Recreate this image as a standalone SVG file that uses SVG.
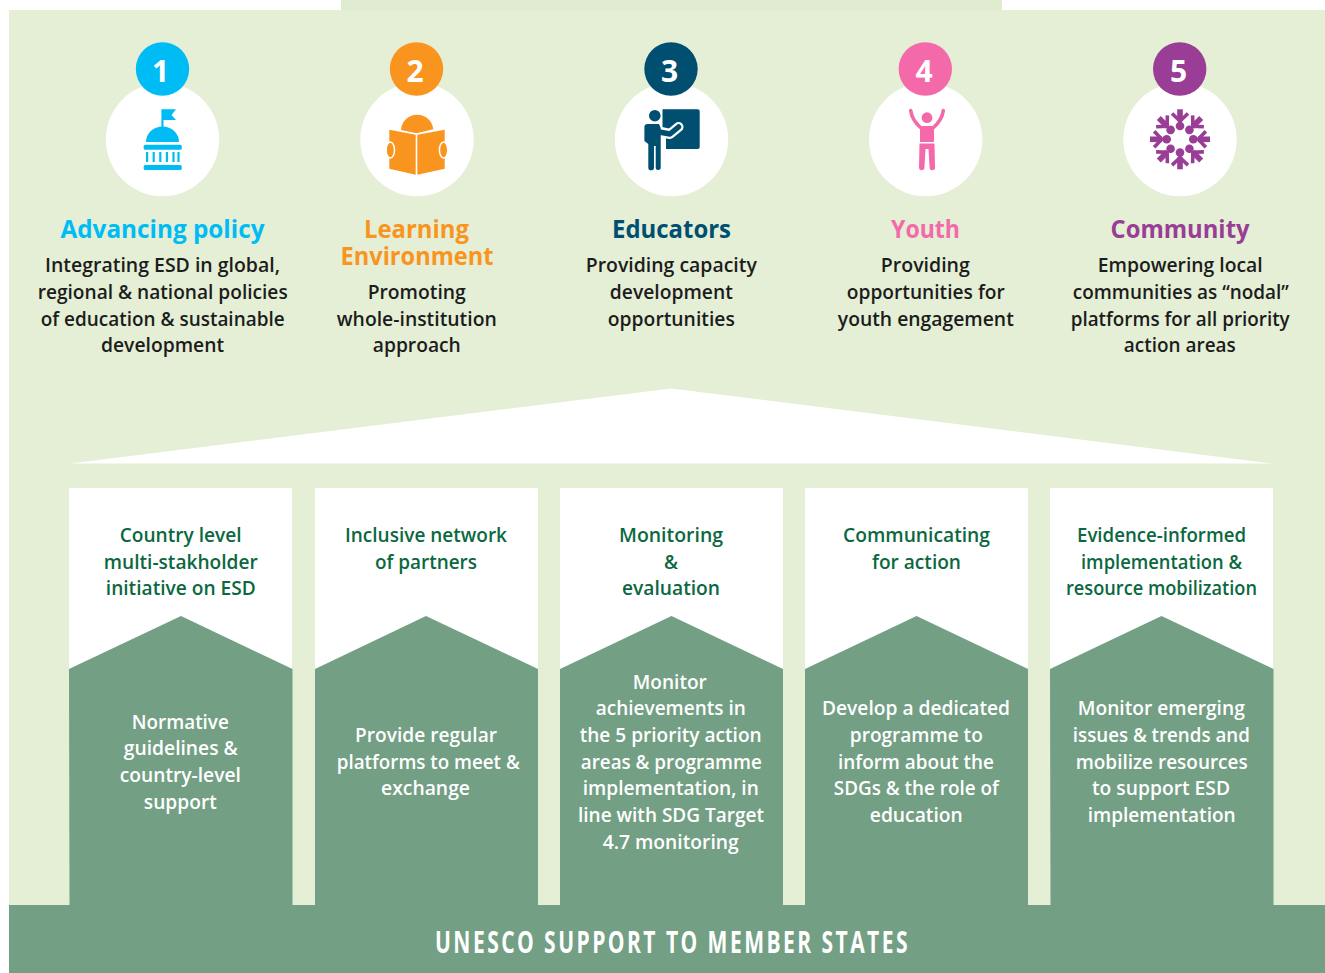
<svg xmlns="http://www.w3.org/2000/svg" width="1325" height="973" viewBox="0 0 1325 973">
<style>
text{font-family:"Open Sans","Noto Sans","Liberation Sans",sans-serif;text-anchor:middle}
.t{font-size:25px;font-weight:700}
.b{font-size:20.5px;font-weight:600;fill:#1c1c1c}
.h{font-size:20.5px;font-weight:600;fill:#0b6840}
.w{font-size:20.5px;font-weight:600;fill:#fff}
.n{font-size:30px;font-weight:700;fill:#fff}
.c{fill:#fff}
.p{fill:#739f85}
.panel{fill:#fff}
</style>
<defs>
<g id="fig"><circle cx="0" cy="-13.3" r="4.3" fill="#993d96"/><rect x="-2.8" y="-30" width="5.6" height="12" fill="#993d96"/><path d="M-8-25.8L0-18.3 8-25.8" fill="none" stroke="#993d96" stroke-width="3.6"/></g>
</defs>
<rect width="1325" height="973" fill="#fff"/>
<rect x="9" y="10" width="1316" height="963" fill="#e4efd5"/>
<rect x="341" y="0" width="661" height="10" fill="#e0ecd0"/>

<g id="action-1">
<circle class="c" cx="162.5" cy="139.5" r="56.7"/>
<circle cx="162.5" cy="69" r="26.7" fill="#00bcf5"/>
<text class="n" x="160.5" y="81.7">1</text>
<g fill="#00bcf5">
<path d="M161.4 109.3H176L171.5 115 176 120H163.5V128H161.4Z"/>
<path d="M146 142A16.5 15.5 0 0 1 179 142Z"/>
<rect x="143.7" y="144.7" width="38" height="5" rx="1.5"/>
<path d="M146 152h2.2v10H146zM152.6 152h2.2v10h-2.2zM159.2 152h2.2v10h-2.2zM165.8 152h2.2v10h-2.2zM172.4 152h2.2v10h-2.2zM177.4 152h2.2v10h-2.2z"/>
<rect x="143.7" y="165" width="38" height="5" rx="1.5"/>
</g>
<text class="t" x="162.5" y="238" fill="#00bcf5" textLength="204" lengthAdjust="spacingAndGlyphs">Advancing policy</text>
<text class="b" x="162.5" y="272" textLength="235" lengthAdjust="spacingAndGlyphs">Integrating ESD in global,</text>
<text class="b" x="162.7" y="299" textLength="250" lengthAdjust="spacingAndGlyphs">regional &amp; national policies</text>
<text class="b" x="162.7" y="326" textLength="244" lengthAdjust="spacingAndGlyphs">of education &amp; sustainable</text>
<text class="b" x="162.5" y="352" textLength="123" lengthAdjust="spacingAndGlyphs">development</text>
</g>

<g id="action-2">
<circle class="c" cx="417" cy="139.5" r="56.7"/>
<circle cx="416.5" cy="69" r="26.7" fill="#f9951f"/>
<text class="n" x="415" y="81.7">2</text>
<g fill="#f9951f">
<path d="M401 130A16.2 16.2 0 0 1 433.3 129.3L416.7 133.3Z"/>
<path d="M389.3 129.7L415.7 134.7V174.7L389.3 168.7Z"/>
<path d="M444.7 129.7L417.3 134.7V174.7L444.7 168.7Z"/>
<ellipse cx="390.3" cy="150" rx="4.2" ry="8" stroke="#fff" stroke-width="1.5"/>
<ellipse cx="443.6" cy="150" rx="4.2" ry="8" stroke="#fff" stroke-width="1.5"/>
</g>
<text class="t" fill="#f9951f"><tspan x="416.5" y="238" textLength="105" lengthAdjust="spacingAndGlyphs">Learning</tspan><tspan x="417" y="265" textLength="153" lengthAdjust="spacingAndGlyphs">Environment</tspan></text>
<text class="b" x="416.7" y="299" textLength="98" lengthAdjust="spacingAndGlyphs">Promoting</text>
<text class="b" x="416.8" y="326" textLength="160" lengthAdjust="spacingAndGlyphs">whole-institution</text>
<text class="b" x="416.8" y="352" textLength="88" lengthAdjust="spacingAndGlyphs">approach</text>
</g>

<g id="action-3">
<circle class="c" cx="671.5" cy="139.5" r="56.7"/>
<circle cx="671" cy="69" r="26.7" fill="#004f71"/>
<text class="n" x="669.5" y="81.7">3</text>
<g fill="#004f71">
<path d="M662.5 109.3H697.7A2 2 0 0 1 699.7 111.3V147A2 2 0 0 1 697.7 149H666V128H662.5Z"/>
<path d="M661 132L670 134 678.5 127" fill="none" stroke="#fff" stroke-width="10" stroke-linecap="round" stroke-linejoin="round"/>
<path d="M659 132L670 134 678.5 127" fill="none" stroke="#004f71" stroke-width="5.5" stroke-linecap="round" stroke-linejoin="round"/>
<circle cx="654.8" cy="115.7" r="6.4" stroke="#fff" stroke-width="1.2"/>
<path d="M647.7 124H659L660.7 128V167.5A2.5 2.5 0 0 1 655.7 167.5V146H654V167.5A2.8 2.8 0 0 1 648.3 167.5V144L644.4 141V127Q644.4 124 647.7 124Z"/>
</g>
<text class="t" x="671.5" y="238" fill="#004f71" textLength="119" lengthAdjust="spacingAndGlyphs">Educators</text>
<text class="b" x="671.3" y="272" textLength="171" lengthAdjust="spacingAndGlyphs">Providing capacity</text>
<text class="b" x="671.3" y="299" textLength="123" lengthAdjust="spacingAndGlyphs">development</text>
<text class="b" x="671.3" y="326" textLength="127" lengthAdjust="spacingAndGlyphs">opportunities</text>
</g>

<g id="action-4">
<circle class="c" cx="925.7" cy="139.5" r="56.7"/>
<circle cx="925.3" cy="69" r="26.7" fill="#f469a9"/>
<text class="n" x="924" y="81.7">4</text>
<g fill="#f469a9">
<circle cx="927" cy="117.7" r="5.4"/>
<path d="M910.7 110.5Q912 120 920.5 127.5L927 131 933.5 127.5Q942 120 943.3 110.5" fill="none" stroke="#f469a9" stroke-width="3.6" stroke-linecap="round" stroke-linejoin="round"/>
<rect x="920" y="126" width="14" height="16"/>
<path d="M919.5 143.5H934.5L935 167.5A2.7 2.7 0 0 1 929.6 167.5L928.5 149H925.5L924.4 167.5A2.7 2.7 0 0 1 919 167.5Z"/>
</g>
<text class="t" x="925.5" y="238" fill="#f469a9" textLength="69" lengthAdjust="spacingAndGlyphs">Youth</text>
<text class="b" x="925.3" y="272" textLength="89" lengthAdjust="spacingAndGlyphs">Providing</text>
<text class="b" x="925.8" y="299" textLength="158" lengthAdjust="spacingAndGlyphs">opportunities for</text>
<text class="b" x="925.8" y="326" textLength="176" lengthAdjust="spacingAndGlyphs">youth engagement</text>
</g>

<g id="action-5">
<circle class="c" cx="1180" cy="139.5" r="56.7"/>
<circle cx="1179.7" cy="69" r="26.7" fill="#993d96"/>
<text class="n" x="1178.5" y="81.7">5</text>
<g transform="translate(1180 139.3)">
<use href="#fig"/>
<use href="#fig" transform="rotate(45)"/>
<use href="#fig" transform="rotate(90)"/>
<use href="#fig" transform="rotate(135)"/>
<use href="#fig" transform="rotate(180)"/>
<use href="#fig" transform="rotate(225)"/>
<use href="#fig" transform="rotate(270)"/>
<use href="#fig" transform="rotate(315)"/>
</g>
<text class="t" x="1180" y="238" fill="#993d96" textLength="139" lengthAdjust="spacingAndGlyphs">Community</text>
<text class="b" x="1180.2" y="272" textLength="165" lengthAdjust="spacingAndGlyphs">Empowering local</text>
<text class="b" x="1180.8" y="299" textLength="216" lengthAdjust="spacingAndGlyphs">communities as “nodal”</text>
<text class="b" x="1180.2" y="326" textLength="219" lengthAdjust="spacingAndGlyphs">platforms for all priority</text>
<text class="b" x="1179.8" y="352" textLength="112" lengthAdjust="spacingAndGlyphs">action areas</text>
</g>

<g id="roof"><polygon class="c" points="70,463.5 671,388.5 1272,463.5"/></g>

<g id="pillar-1">
<rect class="panel" x="69" y="488" width="223" height="200"/>
<polygon class="p" points="69,669 181,616 292.5,669 292.5,906 69.5,906"/>
<text class="h" x="180.7" y="542" textLength="122" lengthAdjust="spacingAndGlyphs">Country level</text>
<text class="h" x="180.8" y="569" textLength="154" lengthAdjust="spacingAndGlyphs">multi-stakholder</text>
<text class="h" x="180.8" y="595" textLength="150" lengthAdjust="spacingAndGlyphs">initiative on ESD</text>
<text class="w" x="180.3" y="729" textLength="97" lengthAdjust="spacingAndGlyphs">Normative</text>
<text class="w" x="180.8" y="755" textLength="114" lengthAdjust="spacingAndGlyphs">guidelines &amp;</text>
<text class="w" x="180.3" y="782" textLength="121" lengthAdjust="spacingAndGlyphs">country-level</text>
<text class="w" x="180.3" y="809" textLength="73" lengthAdjust="spacingAndGlyphs">support</text>
</g>

<g id="pillar-2">
<rect class="panel" x="315" y="488" width="223" height="200"/>
<polygon class="p" points="315,669 426,616 538,669 538,906 315,906"/>
<text class="h" x="426" y="542" textLength="162" lengthAdjust="spacingAndGlyphs">Inclusive network</text>
<text class="h" x="426" y="569" textLength="102" lengthAdjust="spacingAndGlyphs">of partners</text>
<text class="w" x="426" y="742" textLength="142" lengthAdjust="spacingAndGlyphs">Provide regular</text>
<text class="w" x="428.3" y="769" textLength="183" lengthAdjust="spacingAndGlyphs">platforms to meet &amp;</text>
<text class="w" x="425.5" y="795" textLength="89" lengthAdjust="spacingAndGlyphs">exchange</text>
</g>

<g id="pillar-3">
<rect class="panel" x="560" y="488" width="223" height="200"/>
<polygon class="p" points="560,669 671.5,616 783,669 783,906 560,906"/>
<text class="h" x="671" y="542" textLength="104" lengthAdjust="spacingAndGlyphs">Monitoring</text>
<text class="h" x="671" y="569" textLength="14" lengthAdjust="spacingAndGlyphs">&amp;</text>
<text class="h" x="671" y="595" textLength="98" lengthAdjust="spacingAndGlyphs">evaluation</text>
<text class="w" x="669.8" y="689" textLength="74" lengthAdjust="spacingAndGlyphs">Monitor</text>
<text class="w" x="670.8" y="715" textLength="150" lengthAdjust="spacingAndGlyphs">achievements in</text>
<text class="w" x="670.7" y="742" textLength="182" lengthAdjust="spacingAndGlyphs">the 5 priority action</text>
<text class="w" x="671.3" y="769" textLength="181" lengthAdjust="spacingAndGlyphs">areas &amp; programme</text>
<text class="w" x="670.8" y="795" textLength="176" lengthAdjust="spacingAndGlyphs">implementation, in</text>
<text class="w" x="671" y="822" textLength="186" lengthAdjust="spacingAndGlyphs">line with SDG Target</text>
<text class="w" x="670.7" y="849" textLength="136" lengthAdjust="spacingAndGlyphs">4.7 monitoring</text>
</g>

<g id="pillar-4">
<rect class="panel" x="805" y="488" width="223" height="200"/>
<polygon class="p" points="805,669 916.5,616 1028,669 1028,906 805,906"/>
<text class="h" x="916.5" y="542" textLength="147" lengthAdjust="spacingAndGlyphs">Communicating</text>
<text class="h" x="916.5" y="569" textLength="89" lengthAdjust="spacingAndGlyphs">for action</text>
<text class="w" x="916" y="715" textLength="188" lengthAdjust="spacingAndGlyphs">Develop a dedicated</text>
<text class="w" x="916.3" y="742" textLength="133" lengthAdjust="spacingAndGlyphs">programme to</text>
<text class="w" x="916" y="769" textLength="156" lengthAdjust="spacingAndGlyphs">inform about the</text>
<text class="w" x="916.3" y="795" textLength="165" lengthAdjust="spacingAndGlyphs">SDGs &amp; the role of</text>
<text class="w" x="916.3" y="822" textLength="93" lengthAdjust="spacingAndGlyphs">education</text>
</g>

<g id="pillar-5">
<rect class="panel" x="1050" y="488" width="223" height="200"/>
<polygon class="p" points="1050,669 1161.5,616 1273.5,669 1273.5,906 1050.5,906"/>
<text class="h" x="1161.5" y="542" textLength="169" lengthAdjust="spacingAndGlyphs">Evidence-informed</text>
<text class="h" x="1161.5" y="569" textLength="161" lengthAdjust="spacingAndGlyphs">implementation &amp;</text>
<text class="h" x="1161.5" y="595" textLength="191" lengthAdjust="spacingAndGlyphs">resource mobilization</text>
<text class="w" x="1161.3" y="715" textLength="167" lengthAdjust="spacingAndGlyphs">Monitor emerging</text>
<text class="w" x="1161.3" y="742" textLength="177" lengthAdjust="spacingAndGlyphs">issues &amp; trends and</text>
<text class="w" x="1161.7" y="769" textLength="172" lengthAdjust="spacingAndGlyphs">mobilize resources</text>
<text class="w" x="1161" y="795" textLength="138" lengthAdjust="spacingAndGlyphs">to support ESD</text>
<text class="w" x="1161.7" y="822" textLength="148" lengthAdjust="spacingAndGlyphs">implementation</text>
</g>

<g id="base">
<rect class="p" x="9" y="905" width="1316" height="68"/>
<text x="672.5" y="953" font-size="31" font-weight="700" letter-spacing="3.6" fill="#fff" textLength="475" lengthAdjust="spacingAndGlyphs">UNESCO SUPPORT TO MEMBER STATES</text>
</g>
<g id="connectors"/>
</svg>
